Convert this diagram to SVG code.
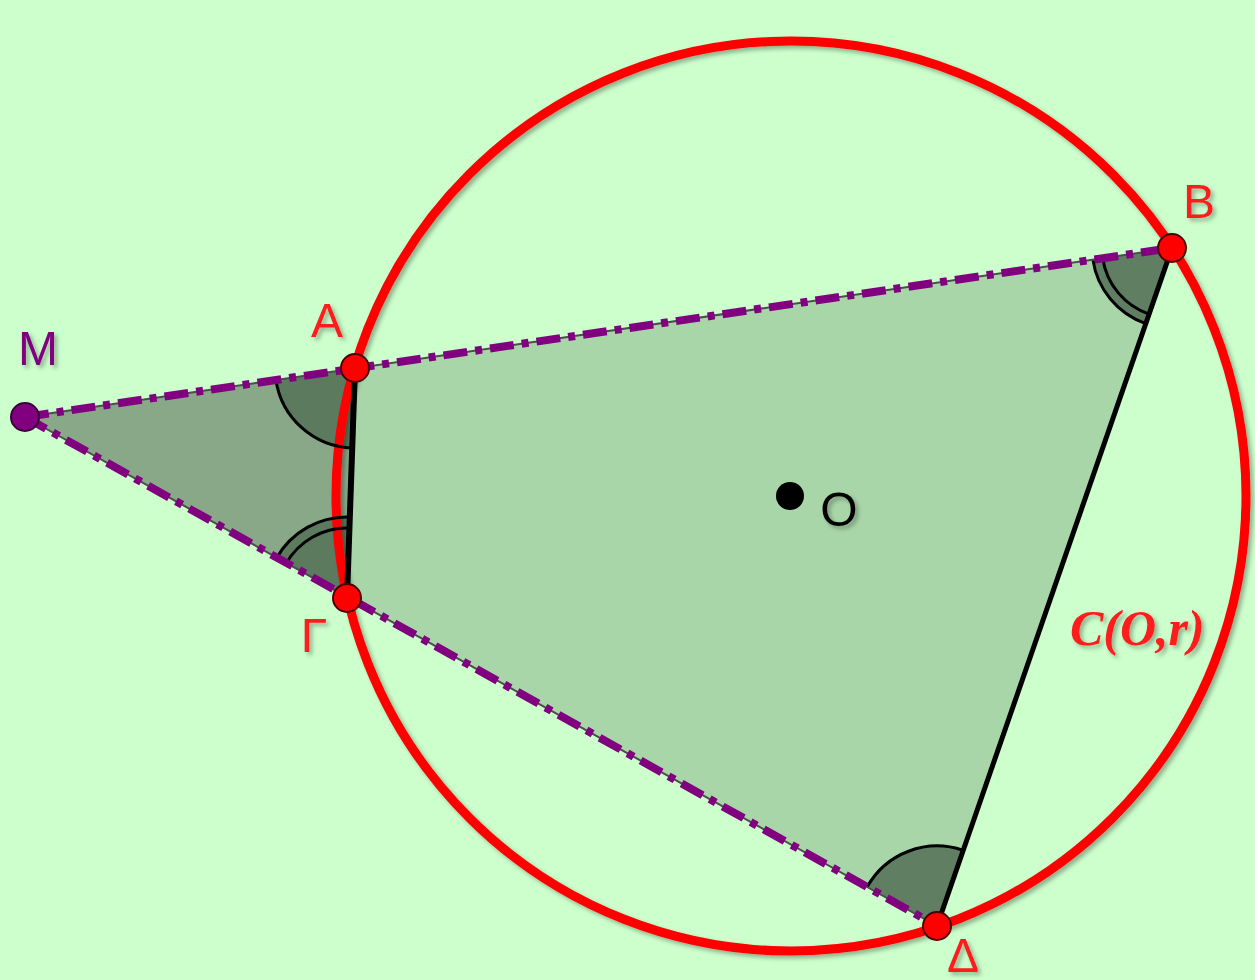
<svg xmlns="http://www.w3.org/2000/svg" width="1255" height="980" viewBox="0 0 1255 980">
<style>
.lbl{font-family:"Liberation Sans",Arial,sans-serif;font-size:48px;text-anchor:middle}
.red{fill:#ff1a1a}
.pt{fill:#ff0000;stroke:#4a0000;stroke-width:2}
.sec{fill:#56745a;fill-opacity:0.9;stroke:none}
.arc{fill:none;stroke:#000;stroke-width:3}
.dash{fill:none;stroke:#800080;stroke-width:8;stroke-dasharray:24 8 7 8}
.thin{fill:none;stroke:#4d4d4d;stroke-width:2}
</style>
<defs>
<filter id="sh" x="-10%" y="-10%" width="130%" height="130%">
<feDropShadow dx="3" dy="3" stdDeviation="2" flood-color="#000" flood-opacity="0.3"/>
</filter>
</defs>
<rect width="1255" height="980" fill="#ccffcc"/>
<g id="fills">
<polygon points="355,368 1172,248 937,926 347,598" fill="#a9d6a9"/>
<polygon points="25,417 355,368 347,598" fill="#88a888"/>
<path class="sec" d="M355,368 L275.9,379.7 A80,80 0 0 0 352.2,448 Z"/>
<path class="sec" d="M347,598 L276.4,558.3 A81,81 0 0 1 349.8,517.05 Z"/>
<path class="sec" d="M1172,248 L1092.9,259.6 A80,80 0 0 0 1145.8,323.6 Z"/>
<path class="sec" d="M937,926 L867.1,887.1 A80,80 0 0 1 963.2,850.4 Z"/>
</g>
<g id="circle" filter="url(#sh)">
<circle cx="791" cy="496" r="455" fill="none" stroke="#ff0000" stroke-width="9"/>
</g>
<g id="angle-marks">
<path class="arc" d="M275.9,379.7 A80,80 0 0 0 352.2,448"/>
<path class="arc" d="M276.4,558.3 A81,81 0 0 1 349.8,517.05"/>
<path class="arc" d="M286,563.7 A70,70 0 0 1 349.4,528"/>
<path class="arc" d="M1092.9,259.6 A80,80 0 0 0 1145.8,323.6"/>
<path class="arc" d="M1102.7,258.2 A70,70 0 0 0 1149.1,314.1"/>
<path class="arc" d="M867.1,887.1 A80,80 0 0 1 963.2,850.4"/>
</g>
<g id="connectors">
<line class="thin" x1="25" y1="417" x2="1172" y2="248"/>
<line class="thin" x1="25" y1="417" x2="937" y2="926"/>
<line x1="355" y1="368" x2="347" y2="598" stroke="#000" stroke-width="6"/>
<line x1="1172" y1="248" x2="937" y2="926" stroke="#000" stroke-width="5"/>
<line class="dash" x1="25" y1="417" x2="1172" y2="248"/>
<line class="dash" x1="25" y1="417" x2="937" y2="926"/>
</g>
<g id="node-M">
<circle cx="25" cy="417" r="14" fill="#800080" stroke="#3a003a" stroke-width="2"/>
<text class="lbl" x="38" y="365" fill="#800080" filter="url(#sh)">M</text>
</g>
<g id="node-A">
<circle class="pt" cx="355" cy="368" r="14"/>
<text class="lbl red" x="327" y="337" filter="url(#sh)">A</text>
</g>
<g id="node-B">
<circle class="pt" cx="1172" cy="248" r="14"/>
<text class="lbl red" x="1199" y="218" filter="url(#sh)">B</text>
</g>
<g id="node-G">
<circle class="pt" cx="347" cy="598" r="14"/>
<text class="lbl red" x="314" y="652" filter="url(#sh)">Γ</text>
</g>
<g id="node-D">
<circle class="pt" cx="937" cy="926" r="14"/>
<text class="lbl red" x="963" y="972" font-size="46" filter="url(#sh)">Δ</text>
</g>
<g id="node-O">
<circle cx="790" cy="496" r="14" fill="#000"/>
<text class="lbl" x="839" y="526" font-size="52" fill="#000" filter="url(#sh)">O</text>
</g>
<g id="label-C">
<text x="1070" y="645" font-family="'Liberation Serif','Times New Roman',serif" font-size="50" font-weight="bold" font-style="italic" fill="#ff1a1a" filter="url(#sh)">C(O,r)</text>
</g>
</svg>
